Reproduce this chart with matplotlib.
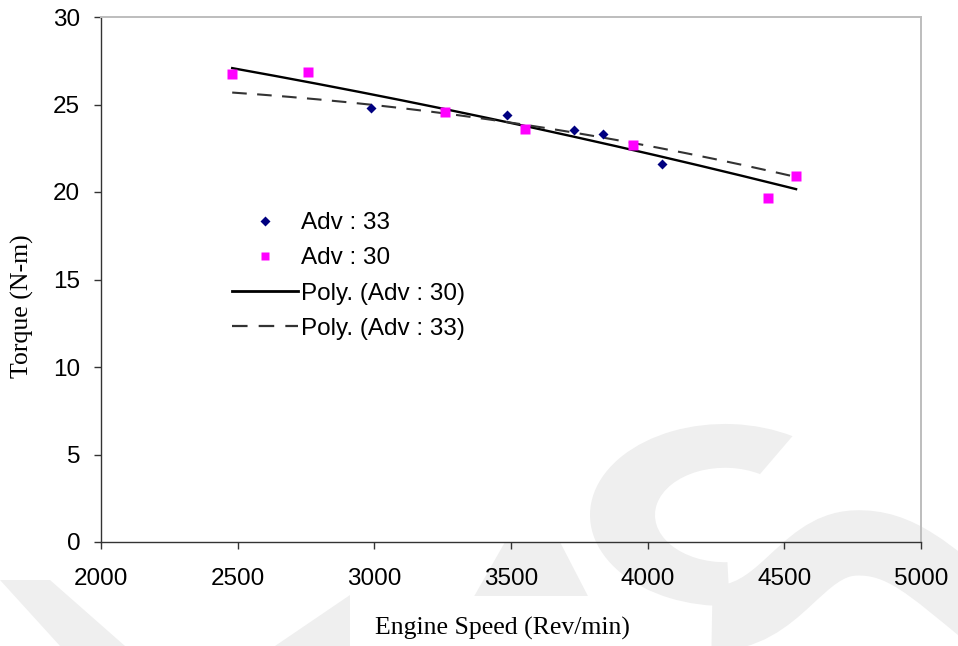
import numpy as np
import matplotlib.pyplot as plt
from matplotlib.patches import Polygon, Wedge, PathPatch
from matplotlib.path import Path
from matplotlib.lines import Line2D

# engine speed (rev/min) and torque (N-m) for each ignition advance
speed_adv33 = [2988, 3484, 3732, 3835, 4051]
torque_adv33 = [24.78, 24.4, 23.54, 23.33, 21.58]
speed_adv30 = [2480, 2756, 3260, 3551, 3945, 4439, 4543]
torque_adv30 = [26.74, 26.84, 24.59, 23.58, 22.70, 19.64, 20.91]

# sampled values of the Adv 33 polynomial trendline
trend33_speed = [2480, 2850, 3050, 3340, 4080, 4440, 4543]
trend33_torque = [25.67, 25.2, 24.91, 24.34, 22.34, 21.26, 20.86]

x_ticks = [2000, 2500, 3000, 3500, 4000, 4500, 5000]
y_ticks = [0, 5, 10, 15, 20, 25, 30]

W, H = 958, 646
fig = plt.figure(figsize=(W / 100, H / 100), dpi=100)


def px(points):
    return [(x / W, 1 - y / H) for x, y in points]


# faint background logo
wm = '#efefef'
fig.patches.append(Wedge((725 / W, 1 - 515 / H), 135 / W, 60, 272, width=65 / W,
                         transform=fig.transFigure, facecolor=wm, edgecolor='none',
                         zorder=-2))
band = Path(px([(712, 618), (780, 620), (800, 545), (855, 543),
                (900, 541), (930, 570), (985, 615)]),
            [Path.MOVETO] + [Path.CURVE4] * 6)
fig.patches.append(PathPatch(band, transform=fig.transFigure, facecolor='none',
                             edgecolor=wm, lw=47, capstyle='butt', zorder=-2))
for shape in ([(0, 580), (50, 580), (125, 646), (60, 646)],
              [(275, 646), (350, 595), (350, 646)],
              [(472, 600), (505, 542), (560, 542), (590, 600)]):
    fig.patches.append(Polygon(px(shape), closed=True, transform=fig.transFigure,
                               facecolor=wm, edgecolor='none', zorder=-2))

ax = fig.add_axes([101 / W, 1 - 542 / H, 820 / W, 525 / H])
ax.patch.set_alpha(0)

# second order trendlines
coef30 = np.polyfit(speed_adv30, torque_adv30, 2)
xs30 = np.linspace(min(speed_adv30), max(speed_adv30), 200)
ax.plot(xs30, np.polyval(coef30, xs30), color='black', lw=1.7, zorder=2)

coef33 = np.polyfit(trend33_speed, trend33_torque, 2)
xs33 = np.linspace(min(trend33_speed), max(trend33_speed), 200)
ax.plot(xs33, np.polyval(coef33, xs33), color='#333333', lw=1.5, dashes=(7, 5), zorder=2)

ax.plot(speed_adv33, torque_adv33, 'D', color='#000080', ms=5.2, mec='none', zorder=3)
ax.plot(speed_adv30, torque_adv30, 's', color='#ff00ff', ms=6.5, mec='none', zorder=4)

ax.set_xlim(2000, 5000)
ax.set_ylim(0, 30)
ax.set_xticks(x_ticks)
ax.set_yticks(y_ticks)

for side in ('left', 'bottom'):
    ax.spines[side].set_color('#333333')
    ax.spines[side].set_linewidth(1.0)
for side in ('top', 'right'):
    ax.spines[side].set_color('#bdbdbd')
    ax.spines[side].set_linewidth(1.4)

ax.tick_params(axis='both', direction='out', length=5, width=1.0, color='#333333',
               labelsize=17.5)
ax.tick_params(axis='x', pad=14)
ax.tick_params(axis='y', pad=10)
for lab in ax.get_xticklabels() + ax.get_yticklabels():
    lab.set_family('Liberation Sans')

ax.set_xlabel('Engine Speed (Rev/min)', family='Liberation Serif', fontsize=18.5,
              bbox=dict(facecolor='white', edgecolor='none', pad=15))
ax.xaxis.set_label_coords(0.489, -0.142)
ax.set_ylabel('Torque (N-m)', family='Liberation Serif', fontsize=18.5)
ax.yaxis.set_label_coords(-0.082, 0.45)

handles = [
    Line2D([], [], ls='none', marker='D', color='#000080', ms=5, mec='none'),
    Line2D([], [], ls='none', marker='s', color='#ff00ff', ms=6, mec='none'),
    Line2D([], [], color='black', lw=2),
    Line2D([], [], color='#333333', lw=1.6, dashes=(7, 5)),
]
labels = ['Adv : 33', 'Adv : 30', 'Poly. (Adv : 30)', 'Poly. (Adv : 33)']
ax.legend(handles, labels, loc='upper left', bbox_to_anchor=(0.16, 0.628),
          frameon=False, borderpad=0, borderaxespad=0, handlelength=2.7,
          handletextpad=0.12, labelspacing=0.54,
          prop=dict(family='Liberation Sans', size=17.5))

fig.savefig('out.png', dpi=100)
